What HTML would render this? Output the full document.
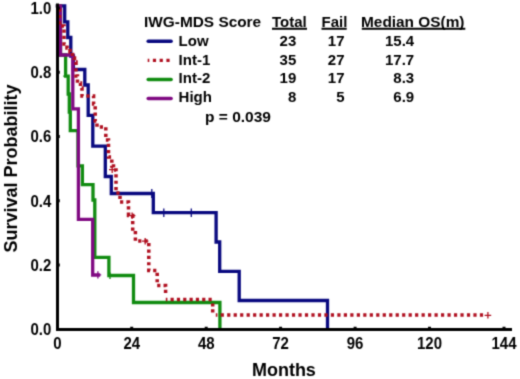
<!DOCTYPE html>
<html><head><meta charset="utf-8">
<style>
html,body{margin:0;padding:0;background:#fff;}
body{width:520px;height:379px;overflow:hidden;position:relative;}
svg{position:absolute;left:0;top:0;}
text{font-family:"Liberation Sans",sans-serif;font-weight:bold;fill:#000;}
</style></head><body>
<svg width="520" height="379" viewBox="0 0 520 379">
<defs><filter id="soft" x="0" y="0" width="520" height="379" filterUnits="userSpaceOnUse" color-interpolation-filters="sRGB"><feConvolveMatrix order="3" kernelMatrix="0.062 0.249 0.062 0.249 1 0.249 0.062 0.249 0.062" edgeMode="none"/></filter></defs>
<rect width="520" height="379" fill="#fff"/>
<g filter="url(#soft)">
<!-- y label -->
<text transform="translate(16.9,252.6) rotate(-90)" font-size="18">Survival Probability</text>
<!-- y tick labels -->
<g font-size="15" text-anchor="end">
<text transform="translate(51.3,13.7) scale(1,1.06)">1.0</text>
<text transform="translate(51.3,77.9) scale(1,1.06)">0.8</text>
<text transform="translate(51.3,142.2) scale(1,1.06)">0.6</text>
<text transform="translate(51.3,206.5) scale(1,1.06)">0.4</text>
<text transform="translate(51.3,270.7) scale(1,1.06)">0.2</text>
<text transform="translate(51.3,335.0) scale(1,1.06)">0.0</text>
</g>
<!-- x tick labels -->
<g font-size="15" text-anchor="middle">
<text transform="translate(57.3,349.3) scale(1,1.06)">0</text>
<text transform="translate(131.7,349.3) scale(1,1.06)">24</text>
<text transform="translate(206.2,349.3) scale(1,1.06)">48</text>
<text transform="translate(280.6,349.3) scale(1,1.06)">72</text>
<text transform="translate(355.1,349.3) scale(1,1.06)">96</text>
<text transform="translate(429.5,349.3) scale(1,1.06)">120</text>
<text transform="translate(504,349.3) scale(1,1.06)">144</text>
</g>
<text transform="translate(283.9,376.3) scale(1,1.05)" font-size="18" text-anchor="middle">Months</text>

<!-- curves -->
<g fill="none" stroke-width="3.3" stroke-linejoin="miter" stroke-linecap="square">

<path stroke="#0a0a80" d="M57.5,5.8 H64.7 V21.8 H67.8 V37.5 H70.8 V56 H73.4 V69.5 H84.8 V85 H88.2 V115.3 H92.8 V146.1 H105.3 V176.5 H111.3 V193.5 H153.3 V212.7 H216.1 V242 H219.7 V271.4 H239.2 V300.5 H327.5 V329"/>
<path stroke="#128c12" d="M57.5,5.8 H60.5 V55 H65.6 V76.2 H68.2 V94 H69.3 V112 H70.3 V130.6 H78 V165.8 H82.4 V184.6 H93 V200 H94.8 V257.3 H108.9 V275.5 H133.5 V302.5 H219.9 V329"/>
<path stroke="#800a82" d="M57.5,5.8 H60.5 V55 H72.8 V108.8 H78.4 V219.3 H92.7 V275 H98.5"/>
<g stroke="#b01020" stroke-width="3.5" stroke-linecap="butt">
<path stroke-dasharray="3.2 3.15" stroke-dashoffset="1.6" d="M57.5,5.8 H59.5 V26 H64 V44 H67 V48 H70 V52 H72.5 V58 H74.5 V62 H76 V76 H77.5 V83 H80.5 V88 H82 V96 H93.6 V104 H95.2 V121 H97 V127 H105.8 V140 H108.5 V157 H111.8 V166 H113.5 V170 H116 V193 H120 V202 H128.5 V215.4 H132.7 V231 H135.4 V241 H148.8 V270.5 H157.2 V285.5 H165.6 V296"/>
<path stroke-dasharray="3.2 3.13" stroke-dashoffset="1.6" d="M165.8,299.5 H212.7"/>
<path d="M212.7,303.4 v3.2 M212.7,309.2 v3.2"/>
<path stroke-dasharray="3.2 3.28" stroke-dashoffset="1.6" d="M215.8,315 H485"/>
</g>

</g>
<!-- censor marks -->
<g stroke-width="1.3" fill="none">
<path stroke="#0a0a80" d="M151.8,189 V198 M163.8,208.5 V217 M191.3,208.5 V217"/>
<path stroke="#b01020" d="M132.1,212.5 V219 M128.8,215.7 H135.4 M145.2,238 V244.4 M142,241.2 H148.4 M112.2,166.5 V173 M109,169.7 H115.4 M487.9,312 V318.6 M484.6,315.3 H491.2"/>
<path stroke="#800a82" d="M97.9,271.2 V278.5 M94.6,274.8 H101.2"/>
<path stroke="#128c12" d="M110,272.5 V279 M63.2,76.2 H69.1"/>
</g>
<!-- axes -->
<g stroke="#000" stroke-width="3" fill="none">
<path d="M57.5,3.5 V329.5 H512"/>
</g>
<g stroke="#000" stroke-width="3">
<path d="M58.5,8 H59.8 M58.5,72.3 H59.8 M58.5,136.5 H59.8 M58.5,200.8 H59.8 M58.5,265 H59.8"/>
<path d="M131.7,328.5 V326.8 M206.2,328.5 V326.8 M280.6,328.5 V326.8 M355.1,328.5 V326.8 M429.5,328.5 V326.8 M504,328.5 V326.8"/>
</g>

<!-- legend -->
<g font-size="15">
<text x="144" y="26.5" font-size="15.4">IWG-MDS Score</text>
<text x="272" y="26.5">Total</text>
<text x="321.5" y="26.5">Fail</text>
<text x="361" y="26.5" font-size="15.4">Median OS(m)</text>
</g>
<g stroke="#000" stroke-width="2">
<path d="M272,28.8 H307 M321.5,28.8 H346.7 M361.8,28.8 H465.3"/>
</g>
<g stroke-width="3.5">
<path stroke="#0a0a80" stroke-linecap="round" d="M148.2,41.3 H171.1"/>
<path stroke="#b01020" stroke-dasharray="3.2 3.57" stroke-dashoffset="1.6" stroke-width="3.2" d="M147.7,60.3 H170"/>
<path stroke="#128c12" stroke-linecap="round" d="M148.2,79.4 H171.1"/>
<path stroke="#800a82" stroke-linecap="round" d="M148.2,98.4 H171.1"/>
</g>
<g font-size="15">
<text x="178.6" y="45.6">Low</text>
<text x="178.6" y="64.8">Int-1</text>
<text x="178.6" y="83.2">Int-2</text>
<text x="178.6" y="101.8">High</text>
</g>
<g font-size="15" text-anchor="end">
<text x="296.3" y="45.6">23</text>
<text x="296.3" y="64.8">35</text>
<text x="296.3" y="83.2">19</text>
<text x="296.3" y="101.8">8</text>
<text x="344.5" y="45.6">17</text>
<text x="344.5" y="64.8">27</text>
<text x="344.5" y="83.2">17</text>
<text x="344.5" y="101.8">5</text>
<text x="414.2" y="45.6">15.4</text>
<text x="414.2" y="64.8">17.7</text>
<text x="414.2" y="83.2">8.3</text>
<text x="414.2" y="101.8">6.9</text>
</g>
<text transform="translate(205,122.2) scale(1.1,1)" font-size="14.1">p = 0.039</text>
</g>
</svg>
</body></html>
